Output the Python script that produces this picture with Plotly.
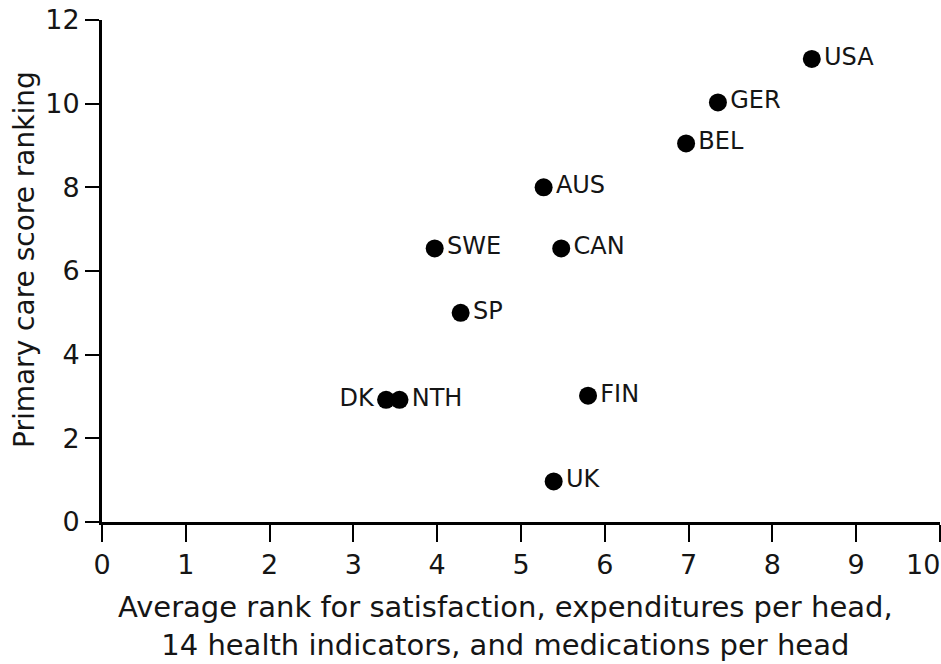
import plotly.graph_objects as go

countries = ["USA", "GER", "BEL", "AUS", "SWE", "CAN", "SP", "DK", "NTH", "FIN", "UK"]
avg_rank = [8.47, 7.35, 6.97, 5.27, 3.97, 5.48, 4.28, 3.39, 3.55, 5.80, 5.39]
primary_care = [11.07, 10.03, 9.05, 8.0, 6.54, 6.54, 5.0, 2.92, 2.92, 3.02, 0.97]
label_pos = ["middle right"] * 7 + ["middle left"] + ["middle right"] * 3

x_ticks = list(range(0, 11))
x_tick_labels = [str(v) for v in x_ticks]
y_ticks = list(range(0, 13, 2))

x_title = "Average rank for satisfaction, expenditures per head,<br>14 health indicators, and medications per head"
y_title = "Primary care score ranking"

font_family = "DejaVu Sans, Liberation Sans, sans-serif"
ink = "#151515"

fig = go.Figure()
fig.add_trace(go.Scatter(
    x=avg_rank, y=primary_care, mode="markers+text",
    text=countries,
    textposition=label_pos,
    textfont=dict(size=24, color=ink, family=font_family),
    marker=dict(size=18, color="black"),
    showlegend=False, cliponaxis=False,
))

fig.update_layout(
    width=941, height=664,
    paper_bgcolor="white", plot_bgcolor="white",
    margin=dict(l=102, r=1, t=20, b=142),
    font=dict(family=font_family, color=ink),
    annotations=[
        dict(text=x_title, xref="paper", yref="paper", x=0.5, y=0,
             xanchor="center", yanchor="top", xshift=-16, yshift=-66,
             showarrow=False, font=dict(size=29, color=ink)),
        dict(text=y_title, xref="paper", yref="paper", x=0, y=0.5,
             xanchor="center", yanchor="middle", xshift=-78, yshift=11,
             textangle=-90, showarrow=False, font=dict(size=28, color=ink)),
        # last x tick label sits inside the page edge, right-aligned to its tick
        dict(text=x_tick_labels[-1], xref="x", yref="paper", x=x_ticks[-1], y=0,
             xanchor="right", yanchor="middle", xshift=2, yshift=-42,
             showarrow=False, font=dict(size=27, color=ink)),
    ],
)
fig.update_xaxes(
    range=[0, 10], tickvals=x_ticks, ticktext=x_tick_labels[:-1] + [""],
    ticks="outside", ticklen=17, tickwidth=2,
    tickcolor="black", showline=True, linecolor="black", linewidth=3,
    showgrid=False, zeroline=False, tickfont=dict(size=27),
    ticklabeloverflow="allow", automargin=False,
)
fig.update_yaxes(
    range=[0, 12], tickvals=y_ticks, ticks="outside", ticklen=14, tickwidth=2,
    tickcolor="black", showline=True, linecolor="black", linewidth=3,
    showgrid=False, zeroline=False, tickfont=dict(size=27),
    ticklabeloverflow="allow", automargin=False,
)

fig.write_html(
    "out.html",
    config={"displayModeBar": False},
    post_script="document.body.style.margin='0';document.body.style.overflow='hidden';",
)
